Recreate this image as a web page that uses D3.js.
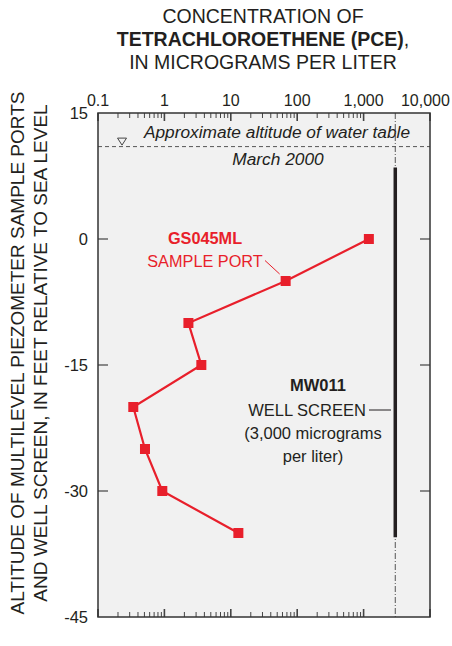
<!DOCTYPE html>
<html>
<head>
<meta charset="utf-8">
<script src="https://cdn.jsdelivr.net/npm/d3@7"></script>
<style>
  html, body { margin: 0; padding: 0; background: #ffffff; }
  svg { display: block; }
  text { font-family: "Liberation Sans", Arial, Helvetica, sans-serif; }
</style>
</head>
<body>
<svg id="chart" width="452" height="646"></svg>
<script>
// Sample-port altitudes (feet relative to sea level) and PCE concentrations (micrograms per liter)
const portAltitudes = [0, -5, -10, -15, -20, -25, -30, -35];
const portConcentrations = [1200, 67, 2.3, 3.6, 0.34, 0.51, 0.93, 13];

// Well screen MW011
const screenConcentration = 3000;
const screenTop = 8.5;
const screenBottom = -35.5;

// Water table, March 2000
const waterTableAltitude = 11;
const waterTableMarkerConc = 0.23;

// Axis ticks
const xTickValues = [0.1, 1, 10, 100, 1000, 10000];
const xTickLabels = ["0.1", "1", "10", "100", "1,000", "10,000"];
const yTickValues = [15, 0, -15, -30, -45];
const yTickLabels = ["15", "0", "-15", "-30", "-45"];

const titleLines = ["CONCENTRATION OF", "TETRACHLOROETHENE (PCE)", "IN MICROGRAMS PER LITER"];
const yTitleLines = ["ALTITUDE OF MULTILEVEL PIEZOMETER SAMPLE PORTS",
                     "AND WELL SCREEN, IN FEET RELATIVE TO SEA LEVEL"];

const RED = "#e81f2b";
const INK = "#231f20";

const svg = d3.select("#chart");
const W = 452;
const plotLeft = 98, plotRight = 430, plotTop = 113, plotBottom = 617;

const x = d3.scaleLog().domain([0.1, 10000]).range([plotLeft, plotRight]);
const y = d3.scaleLinear().domain([15, -45]).range([plotTop, plotBottom]);

// Plot panel
svg.append("rect")
  .attr("x", plotLeft).attr("y", plotTop)
  .attr("width", plotRight - plotLeft).attr("height", plotBottom - plotTop)
  .attr("fill", "#f1f1f1");

// Minor and major log ticks along top and bottom edges
const minorTicks = [];
for (let d = 0; d < 4; d++) {
  for (let m = 2; m <= 9; m++) minorTicks.push(m * Math.pow(10, d - 1));
}
const tickG = svg.append("g").attr("stroke", "#444");
[[plotTop, 1], [plotBottom, -1]].forEach(([edge, dir]) => {
  tickG.selectAll(null).data(minorTicks).join("line")
    .attr("x1", d => x(d)).attr("x2", d => x(d))
    .attr("y1", edge).attr("y2", edge + dir * 5)
    .attr("stroke-width", 1);
  tickG.selectAll(null).data(xTickValues).join("line")
    .attr("x1", d => x(d)).attr("x2", d => x(d))
    .attr("y1", edge).attr("y2", edge + dir * 8)
    .attr("stroke-width", 1.6);
});

// Altitude ticks on both sides
const innerY = yTickValues.filter(v => v !== 15 && v !== -45);
[[plotLeft, 1], [plotRight, -1]].forEach(([edge, dir]) => {
  tickG.selectAll(null).data(innerY).join("line")
    .attr("x1", edge).attr("x2", edge + dir * 10)
    .attr("y1", d => y(d)).attr("y2", d => y(d))
    .attr("stroke-width", 1.2);
});

// Top axis labels (kept inside the page on the right)
svg.append("g").selectAll("text").data(xTickValues).join("text")
  .attr("x", d => x(d)).attr("y", 106)
  .attr("text-anchor", "middle")
  .attr("font-size", 16).attr("fill", INK)
  .text((d, i) => xTickLabels[i])
  .each(function () {
    const b = this.getBBox();
    if (b.x + b.width > W - 2) {
      d3.select(this).attr("x", +d3.select(this).attr("x") - (b.x + b.width - (W - 2)));
    }
  });

// Left axis labels
svg.append("g").selectAll("text").data(yTickValues).join("text")
  .attr("x", 88).attr("y", d => y(d))
  .attr("dy", "0.35em")
  .attr("text-anchor", "end")
  .attr("font-size", 16.5).attr("fill", INK)
  .text((d, i) => yTickLabels[i]);

// Title
const title = svg.append("text")
  .attr("text-anchor", "middle")
  .attr("font-size", 19.5).attr("fill", INK);
title.append("tspan").attr("x", 263).attr("y", 23).text(titleLines[0]);
const t2 = title.append("tspan").attr("x", 263).attr("y", 46);
t2.append("tspan").attr("font-weight", "bold").text(titleLines[1]);
t2.append("tspan").text(",");
title.append("tspan").attr("x", 263).attr("y", 69).text(titleLines[2]);

// Vertical axis title
svg.append("g")
  .attr("transform", "translate(0,353) rotate(-90)")
  .selectAll("text").data(yTitleLines).join("text")
  .attr("x", 0).attr("y", (d, i) => 24 + i * 23)
  .attr("text-anchor", "middle")
  .attr("font-size", 19).attr("fill", INK)
  .text(d => d);

// Water table line and marker
svg.append("line")
  .attr("x1", plotLeft).attr("x2", plotRight)
  .attr("y1", y(waterTableAltitude)).attr("y2", y(waterTableAltitude))
  .attr("stroke", "#555").attr("stroke-width", 1)
  .attr("stroke-dasharray", "4,3");
const tx = x(waterTableMarkerConc), ty = y(waterTableAltitude) - 1.5;
svg.append("path")
  .attr("d", `M${tx - 4.5},${ty - 7} L${tx + 4.5},${ty - 7} L${tx},${ty} Z`)
  .attr("fill", "none").attr("stroke", "#444").attr("stroke-width", 1);
svg.append("text")
  .attr("x", 277).attr("y", y(waterTableAltitude) - 9)
  .attr("text-anchor", "middle").attr("font-style", "italic")
  .attr("font-size", 17.3).attr("fill", INK)
  .text("Approximate altitude of water table");
svg.append("text")
  .attr("x", 278).attr("y", y(waterTableAltitude) + 18)
  .attr("text-anchor", "middle").attr("font-style", "italic")
  .attr("font-size", 17.3).attr("fill", INK)
  .text("March 2000");

// Well screen reference line and screened interval
svg.append("line")
  .attr("x1", x(screenConcentration)).attr("x2", x(screenConcentration))
  .attr("y1", plotTop).attr("y2", plotBottom)
  .attr("stroke", "#555").attr("stroke-width", 1)
  .attr("stroke-dasharray", "6,2,1,2");
svg.append("line")
  .attr("x1", x(screenConcentration)).attr("x2", x(screenConcentration))
  .attr("y1", y(screenTop)).attr("y2", y(screenBottom))
  .attr("stroke", INK).attr("stroke-width", 3.5);

// Frame
svg.append("rect")
  .attr("x", plotLeft).attr("y", plotTop)
  .attr("width", plotRight - plotLeft).attr("height", plotBottom - plotTop)
  .attr("fill", "none").attr("stroke", "#333").attr("stroke-width", 1.5);

// Sample port profile
const pts = portAltitudes.map((a, i) => [x(portConcentrations[i]), y(a)]);
svg.append("path")
  .attr("d", d3.line()(pts))
  .attr("fill", "none").attr("stroke", RED).attr("stroke-width", 2.2);
svg.append("g").selectAll("rect").data(pts).join("rect")
  .attr("x", d => d[0] - 5).attr("y", d => d[1] - 5)
  .attr("width", 10).attr("height", 10)
  .attr("fill", RED);

// GS045ML label and leader
svg.append("text")
  .attr("x", 205).attr("y", 244)
  .attr("text-anchor", "middle").attr("font-weight", "bold")
  .attr("font-size", 16.3).attr("fill", RED)
  .text("GS045ML");
svg.append("text")
  .attr("x", 205).attr("y", 267)
  .attr("text-anchor", "middle")
  .attr("font-size", 16.3).attr("fill", RED)
  .text("SAMPLE PORT");
svg.append("line")
  .attr("x1", 265).attr("y1", 260.5)
  .attr("x2", pts[1][0] - 6).attr("y2", pts[1][1] - 7)
  .attr("stroke", RED).attr("stroke-width", 1);

// MW011 label and leader
const mw = svg.append("text")
  .attr("text-anchor", "middle")
  .attr("font-size", 16.5).attr("fill", INK);
mw.append("tspan").attr("x", 318).attr("y", 391).attr("font-weight", "bold").text("MW011");
mw.append("tspan").attr("x", 307).attr("y", 416).text("WELL SCREEN");
mw.append("tspan").attr("x", 313).attr("y", 439).text("(3,000 micrograms");
mw.append("tspan").attr("x", 313).attr("y", 462).text("per liter)");
svg.append("line")
  .attr("x1", 369).attr("x2", 391)
  .attr("y1", 410).attr("y2", 410)
  .attr("stroke", INK).attr("stroke-width", 1);
</script>
</body>
</html>
